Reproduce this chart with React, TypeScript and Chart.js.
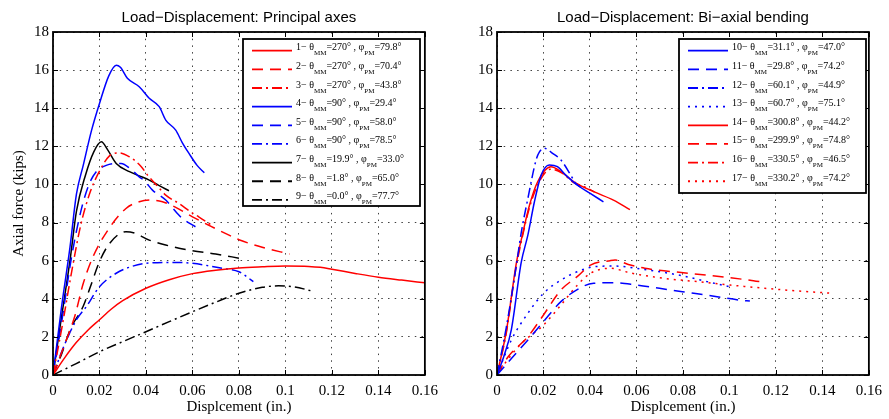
import React, { useEffect, useRef } from 'react';
import { Chart, registerables } from 'chart.js';

Chart.register(...registerables);

// ---------- tick labels ----------
const xTickValues = [0, 0.02, 0.04, 0.06, 0.08, 0.1, 0.12, 0.14, 0.16];
const xTickLabels = ['0', '0.02', '0.04', '0.06', '0.08', '0.1', '0.12', '0.14', '0.16'];
const yTickValues = [0, 2, 4, 6, 8, 10, 12, 14, 16, 18];
const yTickLabels = ['0', '2', '4', '6', '8', '10', '12', '14', '16', '18'];

const leftTitle = 'Load\u2212Displacement: Principal axes';
const rightTitle = 'Load\u2212Displacement: Bi\u2212axial bending';
const xAxisTitle = 'Displcement (in.)';
const yAxisTitle = 'Axial force (kips)';

// ---------- legend categories ----------
const leftIds = ['1', '2', '3', '4', '5', '6', '7', '8', '9'];
const leftTheta = ['270', '270', '270', '90', '90', '90', '19.9', '1.8', '0.0'];
const leftPhi = ['79.8', '70.4', '43.8', '29.4', '58.0', '78.5', '33.0', '65.0', '77.7'];
const rightIds = ['10', '11', '12', '13', '14', '15', '16', '17'];
const rightTheta = ['31.1', '29.8', '60.1', '60.7', '300.8', '299.9', '330.5', '330.2'];
const rightPhi = ['47.0', '74.2', '44.9', '75.1', '44.2', '74.8', '46.5', '74.2'];

// ---------- series (displacement in., axial force kips) ----------
const curve1: number[][] = [[0, 0], [0.005, 0.9], [0.01, 1.7], [0.015, 2.35], [0.02, 2.9], [0.025, 3.45], [0.03, 3.9], [0.04, 4.55], [0.05, 5.0], [0.06, 5.32], [0.07, 5.5], [0.08, 5.62], [0.09, 5.68], [0.1, 5.72], [0.11, 5.7], [0.115, 5.65], [0.12, 5.55], [0.13, 5.33], [0.14, 5.13], [0.15, 4.98], [0.16, 4.84]];
const curve2: number[][] = [[0, 0], [0.005, 1.6], [0.0094, 3.1], [0.013, 4.8], [0.0172, 6.2], [0.0236, 7.6], [0.0314, 8.74], [0.0371, 9.09], [0.0421, 9.18], [0.0471, 9.09], [0.0528, 8.8], [0.06, 8.3], [0.068, 7.8], [0.0755, 7.35], [0.08, 7.1], [0.09, 6.7], [0.1018, 6.35]];
const curve3: number[][] = [[0, 0], [0.004, 2.6], [0.008, 5.4], [0.012, 7.9], [0.016, 9.6], [0.02, 10.7], [0.0243, 11.5], [0.0286, 11.66], [0.0329, 11.45], [0.0378, 10.96], [0.0407, 10.49], [0.045, 9.9], [0.0485, 9.44], [0.0542, 9.0], [0.06, 8.5], [0.0627, 8.3], [0.0684, 7.85]];
const curve4: number[][] = [[0, 0], [0.0036, 3.5], [0.0073, 6.7], [0.0101, 9.5], [0.013, 11.0], [0.0165, 12.8], [0.02, 14.25], [0.024, 15.7], [0.0272, 16.26], [0.029, 16.15], [0.032, 15.57], [0.0371, 15.13], [0.0414, 14.52], [0.0457, 14.08], [0.0485, 13.38], [0.0528, 12.85], [0.0556, 12.2], [0.0585, 11.63], [0.062, 11.0], [0.0651, 10.61]];
const curve5: number[][] = [[0, 0], [0.004, 3.0], [0.008, 6.2], [0.012, 8.6], [0.0155, 10.0], [0.0186, 10.67], [0.0229, 11.0], [0.0272, 11.1], [0.0293, 11.1], [0.0335, 10.8], [0.0371, 10.4], [0.0393, 10.2], [0.0428, 9.7], [0.0485, 9.18], [0.0535, 8.48], [0.0556, 8.22], [0.0613, 7.78]];
const curve6: number[][] = [[0, 0], [0.005, 1.6], [0.0101, 2.9], [0.0144, 3.6], [0.02, 4.63], [0.0272, 5.34], [0.034, 5.7], [0.04, 5.86], [0.0528, 5.91], [0.06, 5.86], [0.0727, 5.6], [0.08, 5.42], [0.0862, 4.9]];
const curve7: number[][] = [[0, 0], [0.003, 2.5], [0.0073, 6.0], [0.0101, 8.6], [0.014, 10.5], [0.0175, 11.7], [0.0208, 12.24], [0.0236, 11.8], [0.0272, 11.1], [0.0329, 10.67], [0.0371, 10.45], [0.0414, 10.23], [0.0455, 9.95], [0.0499, 9.67]];
const curve8: number[][] = [[0, 0], [0.004, 1.2], [0.0073, 2.36], [0.0129, 3.58], [0.016, 4.6], [0.02, 5.95], [0.0243, 6.9], [0.0314, 7.52], [0.035, 7.45], [0.0414, 7.08], [0.0485, 6.82], [0.06, 6.52], [0.07, 6.35], [0.0805, 6.12]];
const curve9: number[][] = [[0, 0], [0.01, 0.6], [0.02, 1.22], [0.03, 1.75], [0.04, 2.27], [0.05, 2.8], [0.06, 3.32], [0.07, 3.82], [0.08, 4.29], [0.09, 4.6], [0.097, 4.68], [0.104, 4.62], [0.111, 4.42]];

const curve10: number[][] = [[0, 0], [0.003, 1.0], [0.0062, 2.4], [0.0104, 5.9], [0.0133, 7.35], [0.0161, 9.09], [0.019, 10.49], [0.0225, 11.02], [0.026, 10.93], [0.0296, 10.49], [0.0345, 9.97], [0.0401, 9.53], [0.0458, 9.09]];
const curve11: number[][] = [[0, 0], [0.0062, 0.87], [0.0133, 1.84], [0.02, 2.8], [0.0275, 3.85], [0.0367, 4.63], [0.0416, 4.81], [0.0501, 4.84], [0.06, 4.72], [0.0699, 4.55], [0.0798, 4.37], [0.0897, 4.2], [0.1045, 3.93], [0.1088, 3.88]];
const curve12: number[][] = [[0, 0], [0.004, 2.5], [0.008, 5.5], [0.0105, 7.52], [0.0133, 9.27], [0.0168, 11.28], [0.0182, 11.7], [0.0204, 11.9], [0.0239, 11.63], [0.0275, 11.28], [0.0317, 10.5], [0.0338, 10.06], [0.036, 9.85]];
const curve13: number[][] = [[0, 0], [0.0062, 1.84], [0.0133, 3.24], [0.02, 4.29], [0.0275, 4.98], [0.0345, 5.42], [0.0416, 5.68], [0.05, 5.72], [0.0628, 5.55], [0.072, 5.38], [0.08, 5.2], [0.0904, 4.9], [0.1003, 4.63]];
const curve14: number[][] = [[0, 0], [0.0041, 2.36], [0.0083, 5.86], [0.0112, 7.5], [0.014, 8.92], [0.0175, 10.14], [0.0232, 10.93], [0.0275, 10.67], [0.0331, 10.14], [0.0416, 9.62], [0.0501, 9.18], [0.0572, 8.68]];
const curve15: number[][] = [[0, 0], [0.0048, 0.96], [0.0133, 2.01], [0.02, 3.15], [0.0275, 4.46], [0.0345, 5.16], [0.0402, 5.77], [0.0487, 6.0], [0.0508, 6.03], [0.0565, 5.8], [0.0636, 5.6], [0.0823, 5.34], [0.1005, 5.1], [0.1103, 4.95], [0.1152, 4.86]];
const curve16: number[][] = [[0, 0], [0.004, 2.2], [0.008, 5.5], [0.011, 7.3], [0.014, 8.8], [0.018, 10.1], [0.023, 10.8], [0.028, 10.6], [0.033, 10.1], [0.038, 9.85], [0.042, 9.6]];
const curve17: number[][] = [[0, 0], [0.0034, 0.61], [0.0105, 1.66], [0.02, 2.62], [0.0275, 3.67], [0.0346, 4.72], [0.0402, 5.34], [0.0487, 5.6], [0.0579, 5.34], [0.072, 5.07], [0.0862, 4.9], [0.1003, 4.72], [0.1201, 4.5], [0.1343, 4.37], [0.1442, 4.29]];

const leftCurves = [curve1, curve2, curve3, curve4, curve5, curve6, curve7, curve8, curve9];
const rightCurves = [curve10, curve11, curve12, curve13, curve14, curve15, curve16, curve17];

// ---------- styles ----------
const RED = '#ff0000';
const BLUE = '#0000ff';
const BLACK = '#000000';
const SOLID: number[] = [];
const DASH = [11, 7];
const DASHDOT = [10, 4, 2, 4];
const DOT = [2, 5];

const leftColors = [RED, RED, RED, BLUE, BLUE, BLUE, BLACK, BLACK, BLACK];
const leftDashes = [SOLID, DASH, DASHDOT, SOLID, DASH, DASHDOT, SOLID, DASH, DASHDOT];
const rightColors = [BLUE, BLUE, BLUE, BLUE, RED, RED, RED, RED];
const rightDashes = [SOLID, DASH, DASHDOT, DOT, SOLID, DASH, DASHDOT, DOT];

const SERIF = '"Liberation Serif", "Times New Roman", serif';
const SANS = '"Liberation Sans", Arial, sans-serif';
const GRID = 'rgba(0,0,0,0.75)';

type Side = {
  title: string;
  curves: number[][][];
  colors: string[];
  dashes: number[][];
  ids: string[];
  theta: string[];
  phi: string[];
  axisWidth: number;
  padRight: number;
  showYTitle: boolean;
  legend: { x: number; y: number; w: number; h: number };
};

function makeFramePlugin(side: Side) {
  return {
    id: 'frameAndLegend',
    afterDatasetsDraw(chart: any) {
      const { ctx, chartArea: a, scales } = chart;
      ctx.save();
      // inward ticks
      ctx.strokeStyle = '#000';
      ctx.lineWidth = 1;
      ctx.setLineDash([]);
      ctx.beginPath();
      for (const v of xTickValues) {
        const px = Math.round(scales.x.getPixelForValue(v)) + 0.5;
        ctx.moveTo(px, a.bottom);
        ctx.lineTo(px, a.bottom - 5);
        ctx.moveTo(px, a.top);
        ctx.lineTo(px, a.top + 5);
      }
      for (const v of yTickValues) {
        const py = Math.round(scales.y.getPixelForValue(v)) + 0.5;
        ctx.moveTo(a.left, py);
        ctx.lineTo(a.left + 5, py);
        ctx.moveTo(a.right, py);
        ctx.lineTo(a.right - 5, py);
      }
      ctx.stroke();
      // frame
      ctx.lineWidth = 1.8;
      ctx.strokeRect(a.left, a.top, a.right - a.left, a.bottom - a.top);

      // legend
      const L = side.legend;
      ctx.fillStyle = '#fff';
      ctx.fillRect(L.x, L.y, L.w, L.h);
      ctx.lineWidth = 1.8;
      ctx.strokeStyle = '#000';
      ctx.strokeRect(L.x, L.y, L.w, L.h);
      const rowGap = 18.65;
      const mainFont = `10px ${SERIF}`;
      const subFont = `7px ${SERIF}`;
      side.ids.forEach((id, i) => {
        const sy = L.y + 11.7 + i * rowGap;
        ctx.strokeStyle = side.colors[i];
        ctx.lineWidth = 1.8;
        ctx.setLineDash(side.dashes[i]);
        ctx.beginPath();
        ctx.moveTo(L.x + 9, sy);
        ctx.lineTo(L.x + 49, sy);
        ctx.stroke();
        ctx.setLineDash([]);
        ctx.fillStyle = '#000';
        ctx.textAlign = 'left';
        ctx.textBaseline = 'alphabetic';
        const parts: [string, boolean][] = [
          [`${id}\u2212 \u03b8`, false],
          ['MM', true],
          [`=${side.theta[i]}\u00b0 , \u03c6`, false],
          ['PM', true],
          [`=${side.phi[i]}\u00b0`, false],
        ];
        let cx = L.x + 53;
        for (const [t, sub] of parts) {
          ctx.font = sub ? subFont : mainFont;
          ctx.fillText(t, cx, sub ? sy + 4.5 : sy - 0.5);
          cx += ctx.measureText(t).width;
        }
      });

      // title
      ctx.fillStyle = '#000';
      ctx.font = `15px ${SANS}`;
      ctx.textAlign = 'center';
      ctx.textBaseline = 'alphabetic';
      ctx.fillText(side.title, (a.left + a.right) / 2, 21.5);
      ctx.restore();
    },
  };
}

function makeConfig(side: Side): any {
  const datasets = side.curves.map((c, i) => ({
    label: side.ids[i],
    data: c.map(([x, y]) => ({ x, y })),
    borderColor: side.colors[i],
    backgroundColor: side.colors[i],
    borderDash: side.dashes[i],
    borderWidth: 1.5,
    pointRadius: 0,
    fill: false,
    cubicInterpolationMode: 'monotone',
  }));
  return {
    type: 'line',
    data: { datasets },
    plugins: [makeFramePlugin(side)],
    options: {
      responsive: false,
      animation: false,
      events: [],
      devicePixelRatio: 1,
      layout: { padding: { left: 0, right: side.padRight, top: 32, bottom: 0 } },
      plugins: { legend: { display: false }, title: { display: false }, tooltip: { enabled: false } },
      scales: {
        x: {
          type: 'linear',
          min: 0,
          max: 0.16,
          afterBuildTicks: (s: any) => {
            s.ticks = xTickValues.map((v) => ({ value: v }));
          },
          afterFit: (s: any) => {
            s.height = 44;
          },
          ticks: {
            autoSkip: false,
            maxRotation: 0,
            padding: 7,
            color: '#000',
            font: { family: SERIF, size: 15 },
            callback: (_v: any, i: number) => xTickLabels[i],
          },
          grid: { color: GRID, lineWidth: 1, drawTicks: false },
          border: { display: false, dash: [1.5, 5.2] },
          title: {
            display: true,
            text: xAxisTitle,
            color: '#000',
            font: { family: SERIF, size: 15 },
            padding: { top: 0, bottom: 3 },
          },
        },
        y: {
          type: 'linear',
          min: 0,
          max: 18,
          afterBuildTicks: (s: any) => {
            s.ticks = yTickValues.map((v) => ({ value: v }));
          },
          afterFit: (s: any) => {
            s.width = side.axisWidth;
          },
          ticks: {
            autoSkip: false,
            padding: 4,
            color: '#000',
            font: { family: SERIF, size: 15 },
            callback: (_v: any, i: number) => yTickLabels[i],
          },
          grid: { color: GRID, lineWidth: 1, drawTicks: false },
          border: { display: false, dash: [1.5, 5.2] },
          title: {
            display: side.showYTitle,
            text: yAxisTitle,
            color: '#000',
            font: { family: SERIF, size: 15 },
            padding: { top: 10, bottom: 0 },
          },
        },
      },
    },
  };
}

const leftSide: Side = {
  title: leftTitle,
  curves: leftCurves,
  colors: leftColors,
  dashes: leftDashes,
  ids: leftIds,
  theta: leftTheta,
  phi: leftPhi,
  axisWidth: 53,
  padRight: 17,
  showYTitle: true,
  legend: { x: 243, y: 39, w: 177, h: 167 },
};

const rightSide: Side = {
  title: rightTitle,
  curves: rightCurves,
  colors: rightColors,
  dashes: rightDashes,
  ids: rightIds,
  theta: rightTheta,
  phi: rightPhi,
  axisWidth: 52,
  padRight: 15,
  showYTitle: false,
  legend: { x: 234, y: 39, w: 187, h: 154 },
};

function Panel({ side, left, width }: { side: Side; left: number; width: number }) {
  const ref = useRef<HTMLCanvasElement | null>(null);
  useEffect(() => {
    if (!ref.current) return;
    const chart = new Chart(ref.current, makeConfig(side));
    return () => chart.destroy();
  }, [side]);
  return (
    <canvas
      ref={ref}
      width={width}
      height={419}
      style={{ position: 'absolute', left, top: 0, width, height: 419 }}
    />
  );
}

export default function App() {
  return (
    <div style={{ position: 'fixed', left: 0, top: 0, width: 889, height: 419, background: '#fff', overflow: 'hidden' }}>
      <Panel side={leftSide} left={0} width={445} />
      <Panel side={rightSide} left={445} width={444} />
    </div>
  );
}
